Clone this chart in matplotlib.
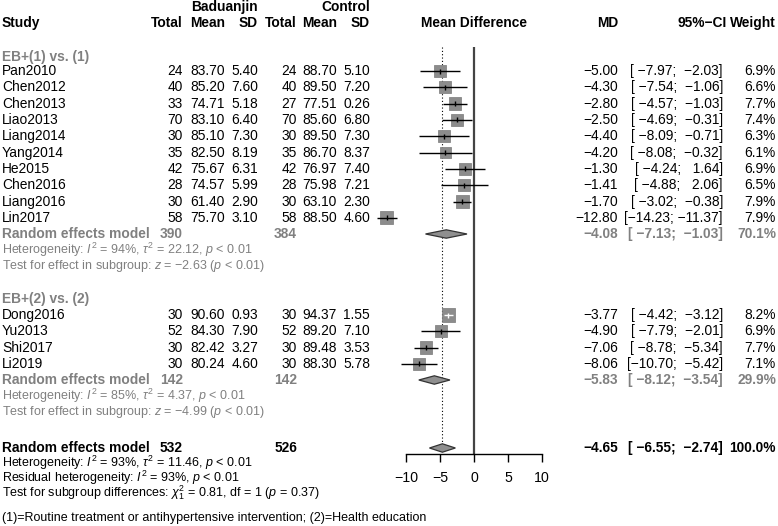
import matplotlib
matplotlib.use('Agg')
import matplotlib.pyplot as plt
import numpy as np

plt.rcParams['font.family'] = ['Liberation Sans', 'DejaVu Sans']
plt.rcParams['mathtext.fontset'] = 'custom'
plt.rcParams['mathtext.rm'] = 'Liberation Sans'
plt.rcParams['mathtext.it'] = 'Liberation Sans:italic'
plt.rcParams['mathtext.bf'] = 'Liberation Sans:bold'

# ---- data ----
studies1 = ['Pan2010', 'Chen2012', 'Chen2013', 'Liao2013', 'Liang2014', 'Yang2014',
            'He2015', 'Chen2016', 'Liang2016', 'Lin2017']
e_n1 = [24, 40, 33, 70, 30, 35, 42, 28, 30, 58]
e_mean1 = [83.70, 85.20, 74.71, 83.10, 85.10, 82.50, 75.67, 74.57, 61.40, 75.70]
e_sd1 = [5.40, 7.60, 5.18, 6.40, 7.30, 8.19, 6.31, 5.99, 2.90, 3.10]
c_n1 = [24, 40, 27, 70, 30, 35, 42, 28, 30, 58]
c_mean1 = [88.70, 89.50, 77.51, 85.60, 89.50, 86.70, 76.97, 75.98, 63.10, 88.50]
c_sd1 = [5.10, 7.20, 0.26, 6.80, 7.30, 8.37, 7.40, 7.21, 2.30, 4.60]
md1 = [-5.00, -4.30, -2.80, -2.50, -4.40, -4.20, -1.30, -1.41, -1.70, -12.80]
lo1 = [-7.97, -7.54, -4.57, -4.69, -8.09, -8.08, -4.24, -4.88, -3.02, -14.23]
hi1 = [-2.03, -1.06, -1.03, -0.31, -0.71, -0.32, 1.64, 2.06, -0.38, -11.37]
w1 = [6.9, 6.6, 7.7, 7.4, 6.3, 6.1, 6.9, 6.5, 7.9, 7.9]
sub1 = dict(ne=390, nc=384, md=-4.08, lo=-7.13, hi=-1.03, w=70.1)

studies2 = ['Dong2016', 'Yu2013', 'Shi2017', 'Li2019']
e_n2 = [30, 52, 30, 30]
e_mean2 = [90.60, 84.30, 82.42, 80.24]
e_sd2 = [0.93, 7.90, 3.27, 4.60]
c_n2 = [30, 52, 30, 30]
c_mean2 = [94.37, 89.20, 89.48, 88.30]
c_sd2 = [1.55, 7.10, 3.53, 5.78]
md2 = [-3.77, -4.90, -7.06, -8.06]
lo2 = [-4.42, -7.79, -8.78, -10.70]
hi2 = [-3.12, -2.01, -5.34, -5.42]
w2 = [8.2, 6.9, 7.7, 7.1]
sub2 = dict(ne=142, nc=142, md=-5.83, lo=-8.12, hi=-3.54, w=29.9)

overall = dict(ne=532, nc=526, md=-4.65, lo=-6.55, hi=-2.74, w=100.0)

het1 = r"Heterogeneity: $I^2$ = 94%, $\tau^2$ = 22.12, $p$ < 0.01"
test1 = r"Test for effect in subgroup: $z$ = $-$2.63 ($p$ < 0.01)"
het2 = r"Heterogeneity: $I^2$ = 85%, $\tau^2$ = 4.37, $p$ < 0.01"
test2 = r"Test for effect in subgroup: $z$ = $-$4.99 ($p$ < 0.01)"
het_all = r"Heterogeneity: $I^2$ = 93%, $\tau^2$ = 11.46, $p$ < 0.01"
resid_all = r"Residual heterogeneity: $I^2$ = 93%, $p$ < 0.01"
test_sub = r"Test for subgroup differences: $\chi^2_1$ = 0.81, df = 1 ($p$ = 0.37)"
footnote = "(1)=Routine treatment or antihypertensive intervention; (2)=Health education"


def num(v):
    return f"{v:.2f}".replace('-', '\u2212')


def ci(l, h):
    return "[" + num(l).rjust(6) + "; " + num(h).rjust(6) + "]"


# ---- layout (pixels) ----
fs = 9.9
fs_small = 9.0
gray = '#808080'
sq_col = '#8c8c8c'
col_x = dict(study=2, en=183, em=225, es=258, cn=297, cm=337, cs=370,
             md=618, ci=723, w=776)

y_rows1 = 71 + 16.33 * np.arange(len(studies1))
y_sub1 = 234
y_het1, y_test1 = 250, 266
y_head2 = 299
y_rows2 = 315 + 16.33 * np.arange(len(studies2))
y_sub2 = 380
y_het2, y_test2 = 396, 412
y_all = 448

fig = plt.figure(figsize=(7.78, 5.26), dpi=100)
ax = fig.add_axes([0, 0, 1, 1])
ax.set_xlim(0, 778)
ax.set_ylim(526, 0)
ax.axis('off')

# headers
ax.text(col_x['es'], 7, 'Baduanjin', ha='right', va='center', fontsize=fs, fontweight='bold')
ax.text(col_x['cs'], 7, 'Control', ha='right', va='center', fontsize=fs, fontweight='bold')
ax.text(col_x['study'], 23, 'Study', ha='left', va='center', fontsize=fs, fontweight='bold')
for key, lab in [('en', 'Total'), ('em', 'Mean'), ('es', 'SD'),
                 ('cn', 'Total'), ('cm', 'Mean'), ('cs', 'SD'),
                 ('md', 'MD'), ('w', 'Weight')]:
    ax.text(col_x[key], 23, lab, ha='right', va='center', fontsize=fs, fontweight='bold')
ax.text(727, 23, '95%\u2212CI', ha='right', va='center', fontsize=fs, fontweight='bold')
ax.text(474, 23, 'Mean Difference', ha='center', va='center', fontsize=fs, fontweight='bold')


def study_rows(ys, names, en, em, es, cn, cm, cs, md, lo, hi, w):
    for i, y in enumerate(ys):
        ax.text(col_x['study'], y, names[i], ha='left', va='center', fontsize=fs)
        ax.text(col_x['en'], y, str(en[i]), ha='right', va='center', fontsize=fs)
        ax.text(col_x['em'], y, f"{em[i]:.2f}", ha='right', va='center', fontsize=fs)
        ax.text(col_x['es'], y, f"{es[i]:.2f}", ha='right', va='center', fontsize=fs)
        ax.text(col_x['cn'], y, str(cn[i]), ha='right', va='center', fontsize=fs)
        ax.text(col_x['cm'], y, f"{cm[i]:.2f}", ha='right', va='center', fontsize=fs)
        ax.text(col_x['cs'], y, f"{cs[i]:.2f}", ha='right', va='center', fontsize=fs)
        ax.text(col_x['md'], y, num(md[i]), ha='right', va='center', fontsize=fs)
        ax.text(col_x['ci'], y, ci(lo[i], hi[i]), ha='right', va='center', fontsize=fs)
        ax.text(col_x['w'], y, f"{w[i]:.1f}%", ha='right', va='center', fontsize=fs)


def summary_row(y, s, color):
    ax.text(col_x['study'], y, 'Random effects model', ha='left', va='center',
            fontsize=fs, fontweight='bold', color=color)
    ax.text(col_x['en'], y, str(s['ne']), ha='right', va='center', fontsize=fs,
            fontweight='bold', color=color)
    ax.text(col_x['cn'], y, str(s['nc']), ha='right', va='center', fontsize=fs,
            fontweight='bold', color=color)
    ax.text(col_x['md'], y, num(s['md']), ha='right', va='center', fontsize=fs,
            fontweight='bold', color=color)
    ax.text(col_x['ci'], y, ci(s['lo'], s['hi']), ha='right', va='center', fontsize=fs,
            fontweight='bold', color=color)
    ax.text(col_x['w'], y, f"{s['w']:.1f}%", ha='right', va='center', fontsize=fs,
            fontweight='bold', color=color)


# group 1
ax.text(col_x['study'], 57, 'EB+(1) vs. (1)', ha='left', va='center', fontsize=fs,
        fontweight='bold', color=gray)
study_rows(y_rows1, studies1, e_n1, e_mean1, e_sd1, c_n1, c_mean1, c_sd1, md1, lo1, hi1, w1)
summary_row(y_sub1, sub1, gray)
ax.text(col_x['study'], y_het1, het1, ha='left', va='center', fontsize=fs_small, color=gray)
ax.text(col_x['study'], y_test1, test1, ha='left', va='center', fontsize=fs_small, color=gray)

# group 2
ax.text(col_x['study'], y_head2, 'EB+(2) vs. (2)', ha='left', va='center', fontsize=fs,
        fontweight='bold', color=gray)
study_rows(y_rows2, studies2, e_n2, e_mean2, e_sd2, c_n2, c_mean2, c_sd2, md2, lo2, hi2, w2)
summary_row(y_sub2, sub2, gray)
ax.text(col_x['study'], y_het2, het2, ha='left', va='center', fontsize=fs_small, color=gray)
ax.text(col_x['study'], y_test2, test2, ha='left', va='center', fontsize=fs_small, color=gray)

# overall
summary_row(y_all, overall, 'black')
ax.text(col_x['study'], 463, het_all, ha='left', va='center', fontsize=fs_small)
ax.text(col_x['study'], 478, resid_all, ha='left', va='center', fontsize=fs_small)
ax.text(col_x['study'], 493, test_sub, ha='left', va='center', fontsize=fs_small)
ax.text(col_x['study'], 518, footnote, ha='left', va='center', fontsize=9.0)

# ---- forest panel ----
fx = fig.add_axes([406 / 778, (526 - 454) / 526, 136 / 778, (454 - 47) / 526])
fx.set_xlim(-10, 10)
fx.set_ylim(454, 47)
fx.patch.set_visible(False)
for sp in ['top', 'right', 'left']:
    fx.spines[sp].set_visible(False)
fx.spines['bottom'].set_linewidth(1.0)
fx.set_yticks([])
fx.set_xticks([-10, -5, 0, 5, 10])
fx.tick_params(axis='x', length=6, width=1.0, labelsize=10.2, pad=6)

fx.vlines(0, 47, 454, color='#444444', lw=1.6)
fx.vlines(overall['md'], 47, y_all - 4.5, color='black', lw=0.8, linestyles=(0, (1, 2)))

px_per_unit = 136 / 20.0
for ys, md, lo, hi, w in [(y_rows1, md1, lo1, hi1, w1), (y_rows2, md2, lo2, hi2, w2)]:
    md = np.array(md)
    side = 13.3 * np.sqrt(np.array(w) / 8.2)
    fx.scatter(md, ys, marker='s', s=(side * 0.72) ** 2, color=sq_col,
               edgecolors='#7a7a7a', linewidths=0.5, clip_on=False, zorder=2)
    for i in range(len(md)):
        inside = (hi[i] - lo[i]) * px_per_unit < side[i]
        lc = 'white' if inside else 'black'
        fx.hlines(ys[i], lo[i], hi[i], color=lc, lw=1.0, clip_on=False, zorder=3)
        fx.vlines(md[i], ys[i] - 2.5, ys[i] + 2.5, color=lc, lw=1.0, clip_on=False, zorder=3)

for y, s in [(y_sub1, sub1), (y_sub2, sub2), (y_all, overall)]:
    fx.fill([s['lo'], s['md'], s['hi'], s['md']], [y, y - 4.2, y, y + 4.2],
            facecolor='#8f8f8f', edgecolor='#333333', lw=0.9, clip_on=False, zorder=3)

fig.savefig('out.png', dpi=100)
